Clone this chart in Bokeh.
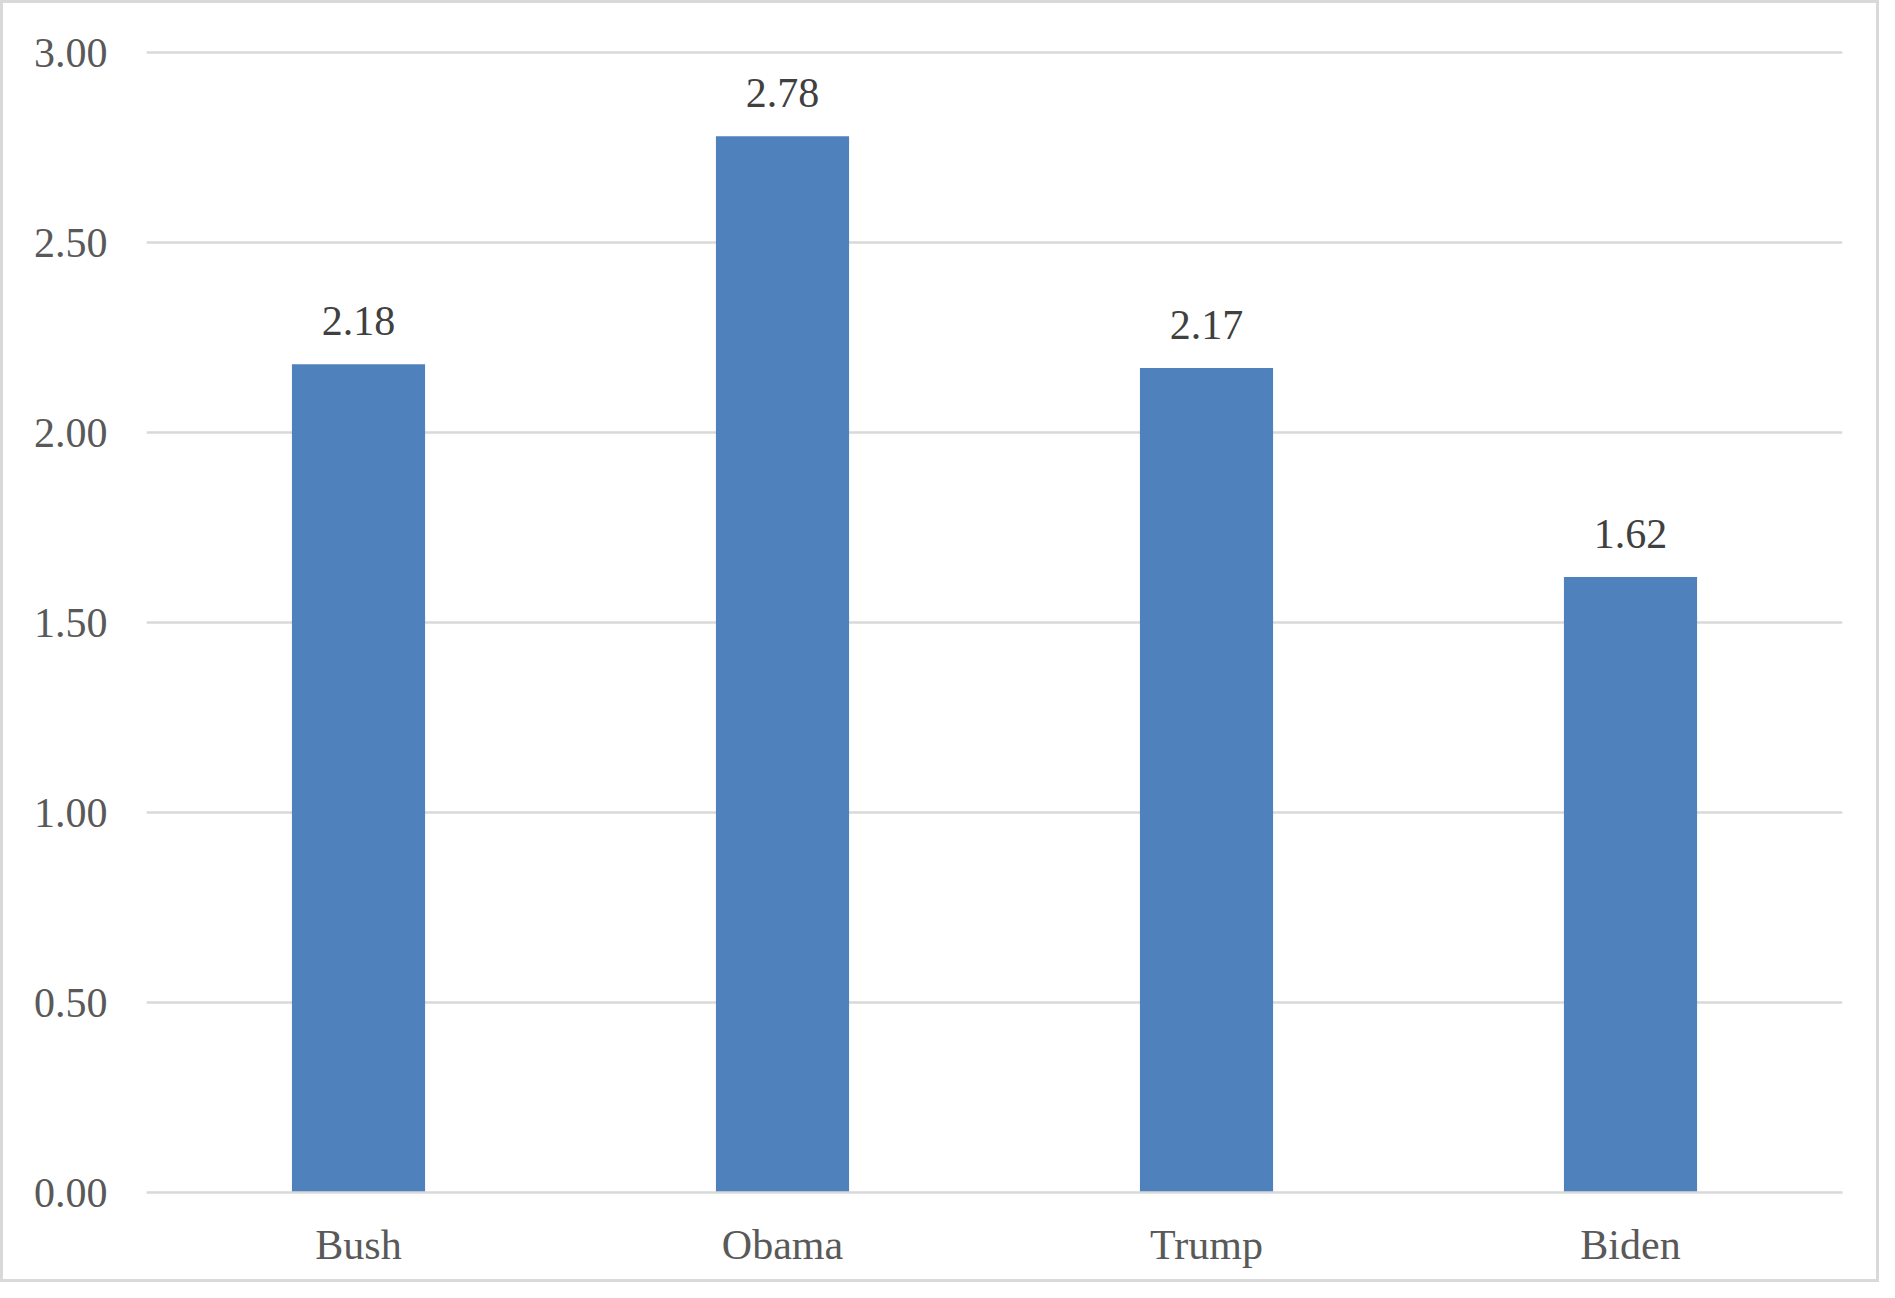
from bokeh.plotting import figure
from bokeh.models import ColumnDataSource, LabelSet, NumeralTickFormatter, FixedTicker
from bokeh.embed import file_html
from bokeh.resources import INLINE

presidents = ["Bush", "Obama", "Trump", "Biden"]
values = [2.18, 2.78, 2.17, 1.62]
labels = ["2.18", "2.78", "2.17", "1.62"]
y_ticks = [0.0, 0.5, 1.0, 1.5, 2.0, 2.5, 3.0]

FONT = "Liberation Serif"
src = ColumnDataSource(dict(x=presidents, top=values, label=labels))

p = figure(x_range=presidents, y_range=(0, 3.006), width=1879, height=1282,
           output_backend="svg", toolbar_location=None,
           min_border_left=143, min_border_right=40, min_border_top=47, min_border_bottom=93)
p.styles = {"border": "3px solid #d9d9d9", "box-sizing": "border-box"}
p.outline_line_color = None
p.background_fill_color = "white"
p.border_fill_color = "white"

p.vbar(x="x", top="top", width=0.314, bottom=0, source=src,
       fill_color="#4f81bd", line_color=None)

p.add_layout(LabelSet(x="x", y="top", text="label", source=src, y_offset=29,
                      text_align="center", text_baseline="alphabetic",
                      text_font=FONT, text_font_size="42px", text_color="#404040"))

p.xgrid.grid_line_color = None
p.ygrid.grid_line_color = "#d9d9d9"
p.ygrid.grid_line_width = 2.5
p.yaxis.ticker = FixedTicker(ticks=y_ticks)
p.yaxis.formatter = NumeralTickFormatter(format="0.00")
for ax in (p.xaxis, p.yaxis):
    ax.major_tick_line_color = None
    ax.minor_tick_line_color = None
    ax.major_label_text_font = FONT
    ax.major_label_text_font_size = "42px"
    ax.major_label_text_color = "#595959"
p.yaxis.axis_line_color = None
p.yaxis.major_label_standoff = 33
p.xaxis.axis_line_color = "#d9d9d9"
p.xaxis.axis_line_width = 2.5
p.xaxis.major_label_standoff = 23

open("out.html", "w").write(file_html(p, INLINE))
